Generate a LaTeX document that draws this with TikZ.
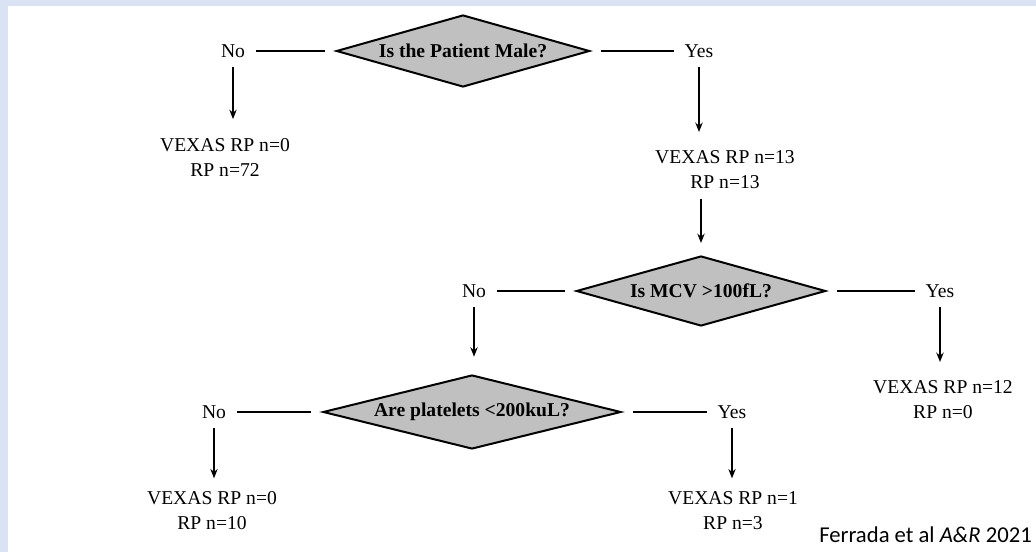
\documentclass[tikz,border=0pt]{standalone}
\usepackage{fontspec}
\setmainfont{Liberation Serif}
\newfontfamily\notefont{Carlito}
\usetikzlibrary{shapes.geometric,arrows.meta}
\definecolor{frameblue}{RGB}{218,227,243}
\definecolor{boxgray}{RGB}{192,192,192}

\begin{document}
\begin{tikzpicture}[x=0.75pt, y=-0.75pt, >={Stealth[length=7pt,width=5.5pt]},
  font=\fontsize{14.7}{18.75}\selectfont,
  ask/.style={diamond, aspect=3.5, draw, line width=1.5pt, fill=boxgray, inner sep=0pt, font=\fontsize{14.7}{18.75}\selectfont\bfseries},
  ans/.style={inner sep=0pt},
  res/.style={inner sep=0pt, align=center},
  link/.style={line width=1.5pt, shorten <=8pt, shorten >=8pt},
  down/.style={->, line width=1.3pt, shorten <=7pt, shorten >=10pt}]
  % page and frame
  \useasboundingbox (0,0) rectangle (1036,552);
  \fill[white] (0,0) rectangle (1036,552);
  \fill[frameblue] (0,0) rectangle (1036,6);
  \fill[frameblue] (0,0) rectangle (8,552);

  % first question
  \node[ask, minimum width=190pt, minimum height=54pt] (q1) at (463,51) {Is the Patient Male?};
  \node[ans] (no1) at (233,51) {No};
  \node[ans] (yes1) at (699,51) {Yes};
  \node[res] (r1) at (225,157) {VEXAS RP n=0\\RP n=72};
  \node[res] (r2) at (725,170) {VEXAS RP n=13\\RP n=13};
  \draw[link] (no1) -- (q1);
  \draw[link] (q1) -- (yes1);
  \draw[down, shorten >=14pt] (no1.south) -- (no1.south |- r1.north);
  \draw[down, shorten >=14pt] (yes1.south) -- (yes1.south |- r2.north);

  % second question
  \node[ask, minimum width=187pt, minimum height=52.5pt] (q2) at (701,291) {Is MCV >100fL?};
  \node[ans] (no2) at (474,291) {No};
  \node[ans] (yes2) at (940,291) {Yes};
  \node[res] (r3) at (943,400) {VEXAS RP n=12\\RP n=0};
  \draw[down, shorten >=9pt] (q2.north |- r2.south) -- (q2.north);
  \draw[link] (no2) -- (q2);
  \draw[link] (q2) -- (yes2);
  \draw[down, shorten >=14pt] (yes2.south) -- (yes2.south |- r3.north);

  % third question
  \node[ask, minimum width=223.5pt, minimum height=55.5pt] (q3) at (472,412) {Are platelets <200kuL?};
  \node[ans] (no3) at (214,412) {No};
  \node[ans] (yes3) at (732,412) {Yes};
  \node[res] (r4) at (212,511) {VEXAS RP n=0\\RP n=10};
  \node[res] (r5) at (733,511) {VEXAS RP n=1\\RP n=3};
  \draw[down, shorten >=13pt] (no2.south) -- (no2.south |- q3.north);
  \draw[link] (no3) -- (q3);
  \draw[link] (q3) -- (yes3);
  \draw[down] (no3.south) -- (no3.south |- r4.north);
  \draw[down] (yes3.south) -- (yes3.south |- r5.north);

  \node[anchor=base west, inner sep=0pt, font=\notefont\fontsize{17}{20}\selectfont] (cite) at (819,542) {Ferrada et al \textit{A\&R} 2021};
\end{tikzpicture}
\end{document}
